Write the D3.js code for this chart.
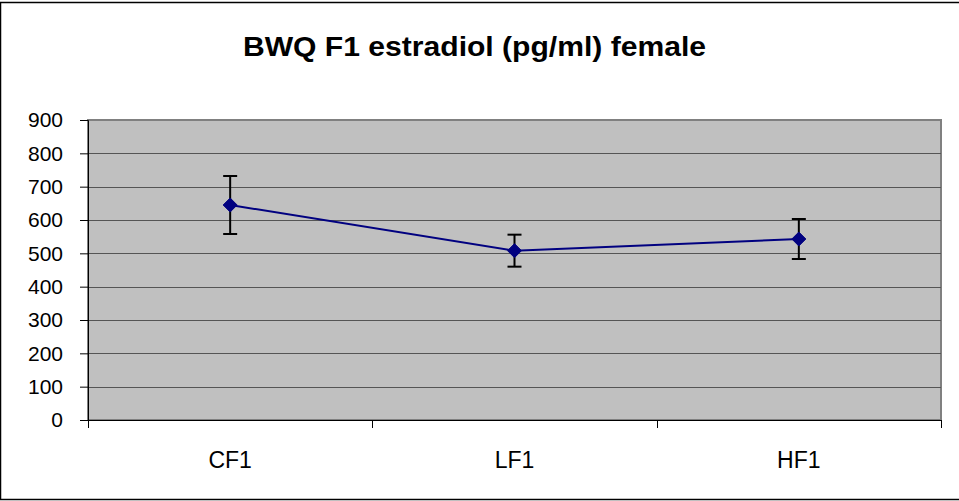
<!DOCTYPE html>
<html>
<head>
<meta charset="utf-8">
<script src="https://cdn.jsdelivr.net/npm/d3@7"></script>
<style>
  html, body { margin: 0; padding: 0; background: #fff; }
  svg { display: block; font-family: "Liberation Sans", Arial, sans-serif; }
</style>
</head>
<body>
<svg id="chart" width="959" height="501"></svg>
<script>
// Estradiol means with error (± SD) per F1 group
const categories = ["CF1", "LF1", "HF1"];
const means = [645, 508, 543];
const errors = [87, 48, 60];
const yTicks = [0, 100, 200, 300, 400, 500, 600, 700, 800, 900];
const titleText = "BWQ F1 estradiol (pg/ml) female";

const svg = d3.select("#chart");
const W = 959, H = 501;
const plot = { left: 88, right: 941, top: 120, bottom: 420 };

// outer frame
svg.append("rect")
  .attr("x", 0.5).attr("y", 2.5)
  .attr("width", W + 2).attr("height", H - 4)
  .attr("fill", "#fff").attr("stroke", "#000").attr("stroke-width", 1.5);

const x = d3.scaleBand().domain(categories).range([plot.left, plot.right]);
const y = d3.scaleLinear().domain([0, 900]).range([plot.bottom, plot.top]);

// plot area
svg.append("rect")
  .attr("x", plot.left).attr("y", plot.top)
  .attr("width", plot.right - plot.left).attr("height", plot.bottom - plot.top)
  .attr("fill", "#c0c0c0").attr("stroke", "#808080").attr("stroke-width", 2);

// horizontal gridlines
svg.append("g").selectAll("line")
  .data(yTicks.filter(d => d > 0 && d < 900))
  .join("line")
  .attr("x1", plot.left).attr("x2", plot.right)
  .attr("y1", d => Math.round(y(d)) + 0.5).attr("y2", d => Math.round(y(d)) + 0.5)
  .attr("stroke", "#555").attr("stroke-width", 1);

// y axis
const yAxis = svg.append("g")
  .attr("transform", `translate(${plot.left},0)`)
  .call(d3.axisLeft(y).tickValues(yTicks).tickSize(8).tickPadding(17));
yAxis.select(".domain").attr("stroke", "#000");
yAxis.selectAll(".tick line").attr("stroke", "#000");
yAxis.selectAll(".tick text")
  .attr("font-size", 21).attr("fill", "#000")
  .attr("font-family", "Liberation Sans, Arial, sans-serif");

// x axis with ticks at band boundaries
const xAxis = svg.append("g")
  .attr("transform", `translate(0,${plot.bottom})`);
xAxis.append("line")
  .attr("x1", plot.left).attr("x2", plot.right)
  .attr("y1", 0.5).attr("y2", 0.5).attr("stroke", "#000");
const bounds = categories.map(c => x(c)).concat([x(categories[categories.length - 1]) + x.bandwidth()]);
xAxis.selectAll("line.tk").data(bounds).join("line")
  .attr("class", "tk")
  .attr("x1", d => Math.round(d) + 0.5).attr("x2", d => Math.round(d) + 0.5)
  .attr("y1", 0).attr("y2", 8).attr("stroke", "#000");
xAxis.selectAll("text").data(categories).join("text")
  .attr("x", d => x(d) + x.bandwidth() / 2)
  .attr("y", 48)
  .attr("text-anchor", "middle")
  .attr("font-size", 23)
  .text(d => d);

const cx = d => x(d) + x.bandwidth() / 2;
const data = categories.map((c, i) => ({ c, m: means[i], e: errors[i] }));

// connecting line
svg.append("path")
  .datum(data)
  .attr("fill", "none").attr("stroke", "#000080").attr("stroke-width", 2)
  .attr("d", d3.line().x(d => cx(d.c)).y(d => y(d.m)));

// error bars
const eb = svg.append("g").selectAll("g").data(data).join("g");
eb.append("line")
  .attr("x1", d => cx(d.c)).attr("x2", d => cx(d.c))
  .attr("y1", d => y(d.m + d.e)).attr("y2", d => y(d.m - d.e))
  .attr("stroke", "#000").attr("stroke-width", 2);
eb.selectAll("line.cap")
  .data(d => [d.m + d.e, d.m - d.e].map(v => ({ c: d.c, v })))
  .join("line").attr("class", "cap")
  .attr("x1", d => cx(d.c) - 7).attr("x2", d => cx(d.c) + 7)
  .attr("y1", d => y(d.v)).attr("y2", d => y(d.v))
  .attr("stroke", "#000").attr("stroke-width", 2);

// diamond markers
svg.append("g").selectAll("path").data(data).join("path")
  .attr("transform", d => `translate(${cx(d.c)},${y(d.m)})`)
  .attr("d", "M0,-7L7,0L0,7L-7,0Z")
  .attr("fill", "#000080").attr("stroke", "#000080").attr("stroke-width", 1);

// title
svg.append("text")
  .attr("x", 474.5).attr("y", 56)
  .attr("text-anchor", "middle")
  .attr("font-size", 27).attr("font-weight", "bold")
  .attr("textLength", 463).attr("lengthAdjust", "spacingAndGlyphs")
  .text(titleText);
</script>
</body>
</html>
